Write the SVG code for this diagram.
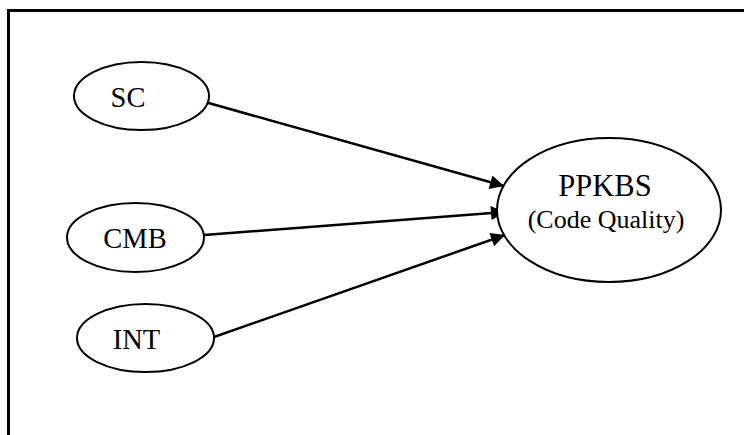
<svg xmlns="http://www.w3.org/2000/svg" width="744" height="435" viewBox="0 0 744 435">
  <style>
    .node ellipse { fill: #ffffff; stroke: #000000; stroke-width: 2; }
    .label { font-family: "Liberation Serif", "Times New Roman", serif; fill: #000000; text-anchor: middle; }
    .edge { stroke: #000000; stroke-width: 2.5; fill: none; marker-end: url(#arrow); }
  </style>
  <defs>
    <marker id="arrow" viewBox="0 0 10 10" refX="10" refY="5" markerWidth="6.4" markerHeight="5.6" markerUnits="strokeWidth" orient="auto">
      <path d="M0,0 L10,5 L0,10 Z" fill="#000000"/>
    </marker>
  </defs>

  <rect width="744" height="435" fill="#ffffff"/>
  <!-- outer frame (open towards right and bottom) -->
  <rect x="8.5" y="10.5" width="800" height="500" fill="none" stroke="#000000" stroke-width="3"/>

  <g id="connectors">
    <line class="edge" x1="205" y1="102" x2="504" y2="186"/>
    <line class="edge" x1="204" y1="235" x2="505" y2="212"/>
    <line class="edge" x1="214" y1="337" x2="505" y2="235"/>
  </g>

  <g id="node-sc" class="node">
    <ellipse cx="141.5" cy="96" rx="67.5" ry="34"/>
    <text class="label" x="128" y="107" font-size="28.5">SC</text>
  </g>

  <g id="node-cmb" class="node">
    <ellipse cx="135.5" cy="237.5" rx="68.5" ry="34.5"/>
    <text class="label" x="135" y="248" font-size="28.5">CMB</text>
  </g>

  <g id="node-int" class="node">
    <ellipse cx="145.5" cy="338" rx="68.5" ry="34"/>
    <text class="label" x="136.5" y="349" font-size="28.5">INT</text>
  </g>

  <g id="node-ppkbs" class="node">
    <ellipse cx="609" cy="210" rx="112" ry="72"/>
    <text class="label" x="605" y="196" font-size="30.5">PPKBS</text>
    <text class="label" x="606" y="228" font-size="26">(Code Quality)</text>
  </g>
</svg>
